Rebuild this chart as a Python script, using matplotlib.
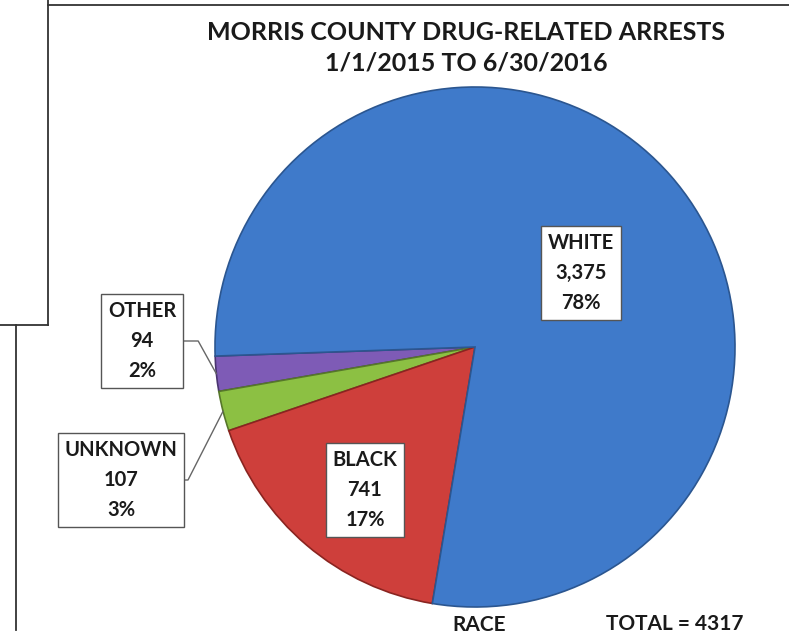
import numpy as np
import matplotlib.pyplot as plt

plt.rcParams['font.family'] = ['Lato', 'DejaVu Sans']

races = ['OTHER', 'UNKNOWN', 'BLACK', 'WHITE']
arrests = [94, 107, 741, 3375]
pct_labels = ['2%', '3%', '17%', '78%']
colors = ['#7E5BB6', '#8CC043', '#CE3F3B', '#3F7ACA']
edge_colors = ['#4a3470', '#56772a', '#8a2420', '#2b5690']
title = 'MORRIS COUNTY DRUG-RELATED ARRESTS\n1/1/2015 TO 6/30/2016'
total = sum(arrests)

fig = plt.figure(figsize=(7.89, 6.39), dpi=100)
ax = fig.add_axes([0, 0, 1, 1])

cx, cy, r = 475, 347, 260
wedges, _ = ax.pie(arrests, colors=colors, startangle=178, counterclock=False,
                   center=(cx, cy), radius=r,
                   wedgeprops=dict(linewidth=1.2))
for w, ec in zip(wedges, edge_colors):
    w.set_edgecolor(ec)

ax.set_xlim(0, 789)
ax.set_ylim(639, 0)
ax.set_aspect('equal')
ax.axis('off')

# page border lines from the scanned document
ax.plot([48, 789], [5, 5], color='#333333', lw=1.3)
ax.plot([48, 48], [0, 325], color='#333333', lw=1.3)
ax.plot([0, 48], [325, 325], color='#333333', lw=1.3)
ax.plot([16, 16], [325, 630], color='#333333', lw=1.3)

ax.text(466, 48, title, ha='center', va='center', fontsize=18,
        fontweight='bold', color='#1a1a1a', linespacing=1.42)

box = dict(boxstyle='square,pad=0.35', fc='white', ec='#555555', lw=1)
label_pos = [(142, 341), (121, 480), (365, 490), (581, 273)]
leader_angle = [-61, 63]

for i, (name, n, pct) in enumerate(zip(races, arrests, pct_labels)):
    txt = f'{name}\n{n:,}\n{pct}'
    kw = dict(ha='center', va='center', fontsize=14.5, fontweight='bold',
              color='#1a1a1a', linespacing=1.62, bbox=box)
    if i < 2:
        w = wedges[i]
        mid = np.deg2rad((w.theta1 + w.theta2) / 2)
        xy = (cx + r * np.cos(mid), cy + r * np.sin(mid))
        ax.annotate(txt, xy=xy, xytext=label_pos[i],
                    arrowprops=dict(arrowstyle='-', color='#666666', lw=1,
                                    relpos=(1, 0.5), shrinkA=0, shrinkB=0,
                                    connectionstyle=f'angle,angleA=0,angleB={leader_angle[i]},rad=0'),
                    **kw)
    else:
        ax.text(*label_pos[i], txt, **kw)

ax.text(479, 625, 'RACE', ha='center', va='center', fontsize=15,
        fontweight='bold', color='#1a1a1a')
ax.text(675, 624, f'TOTAL = {total}', ha='center', va='center', fontsize=15,
        fontweight='bold', color='#1a1a1a')

fig.savefig('out.png', dpi=100)
